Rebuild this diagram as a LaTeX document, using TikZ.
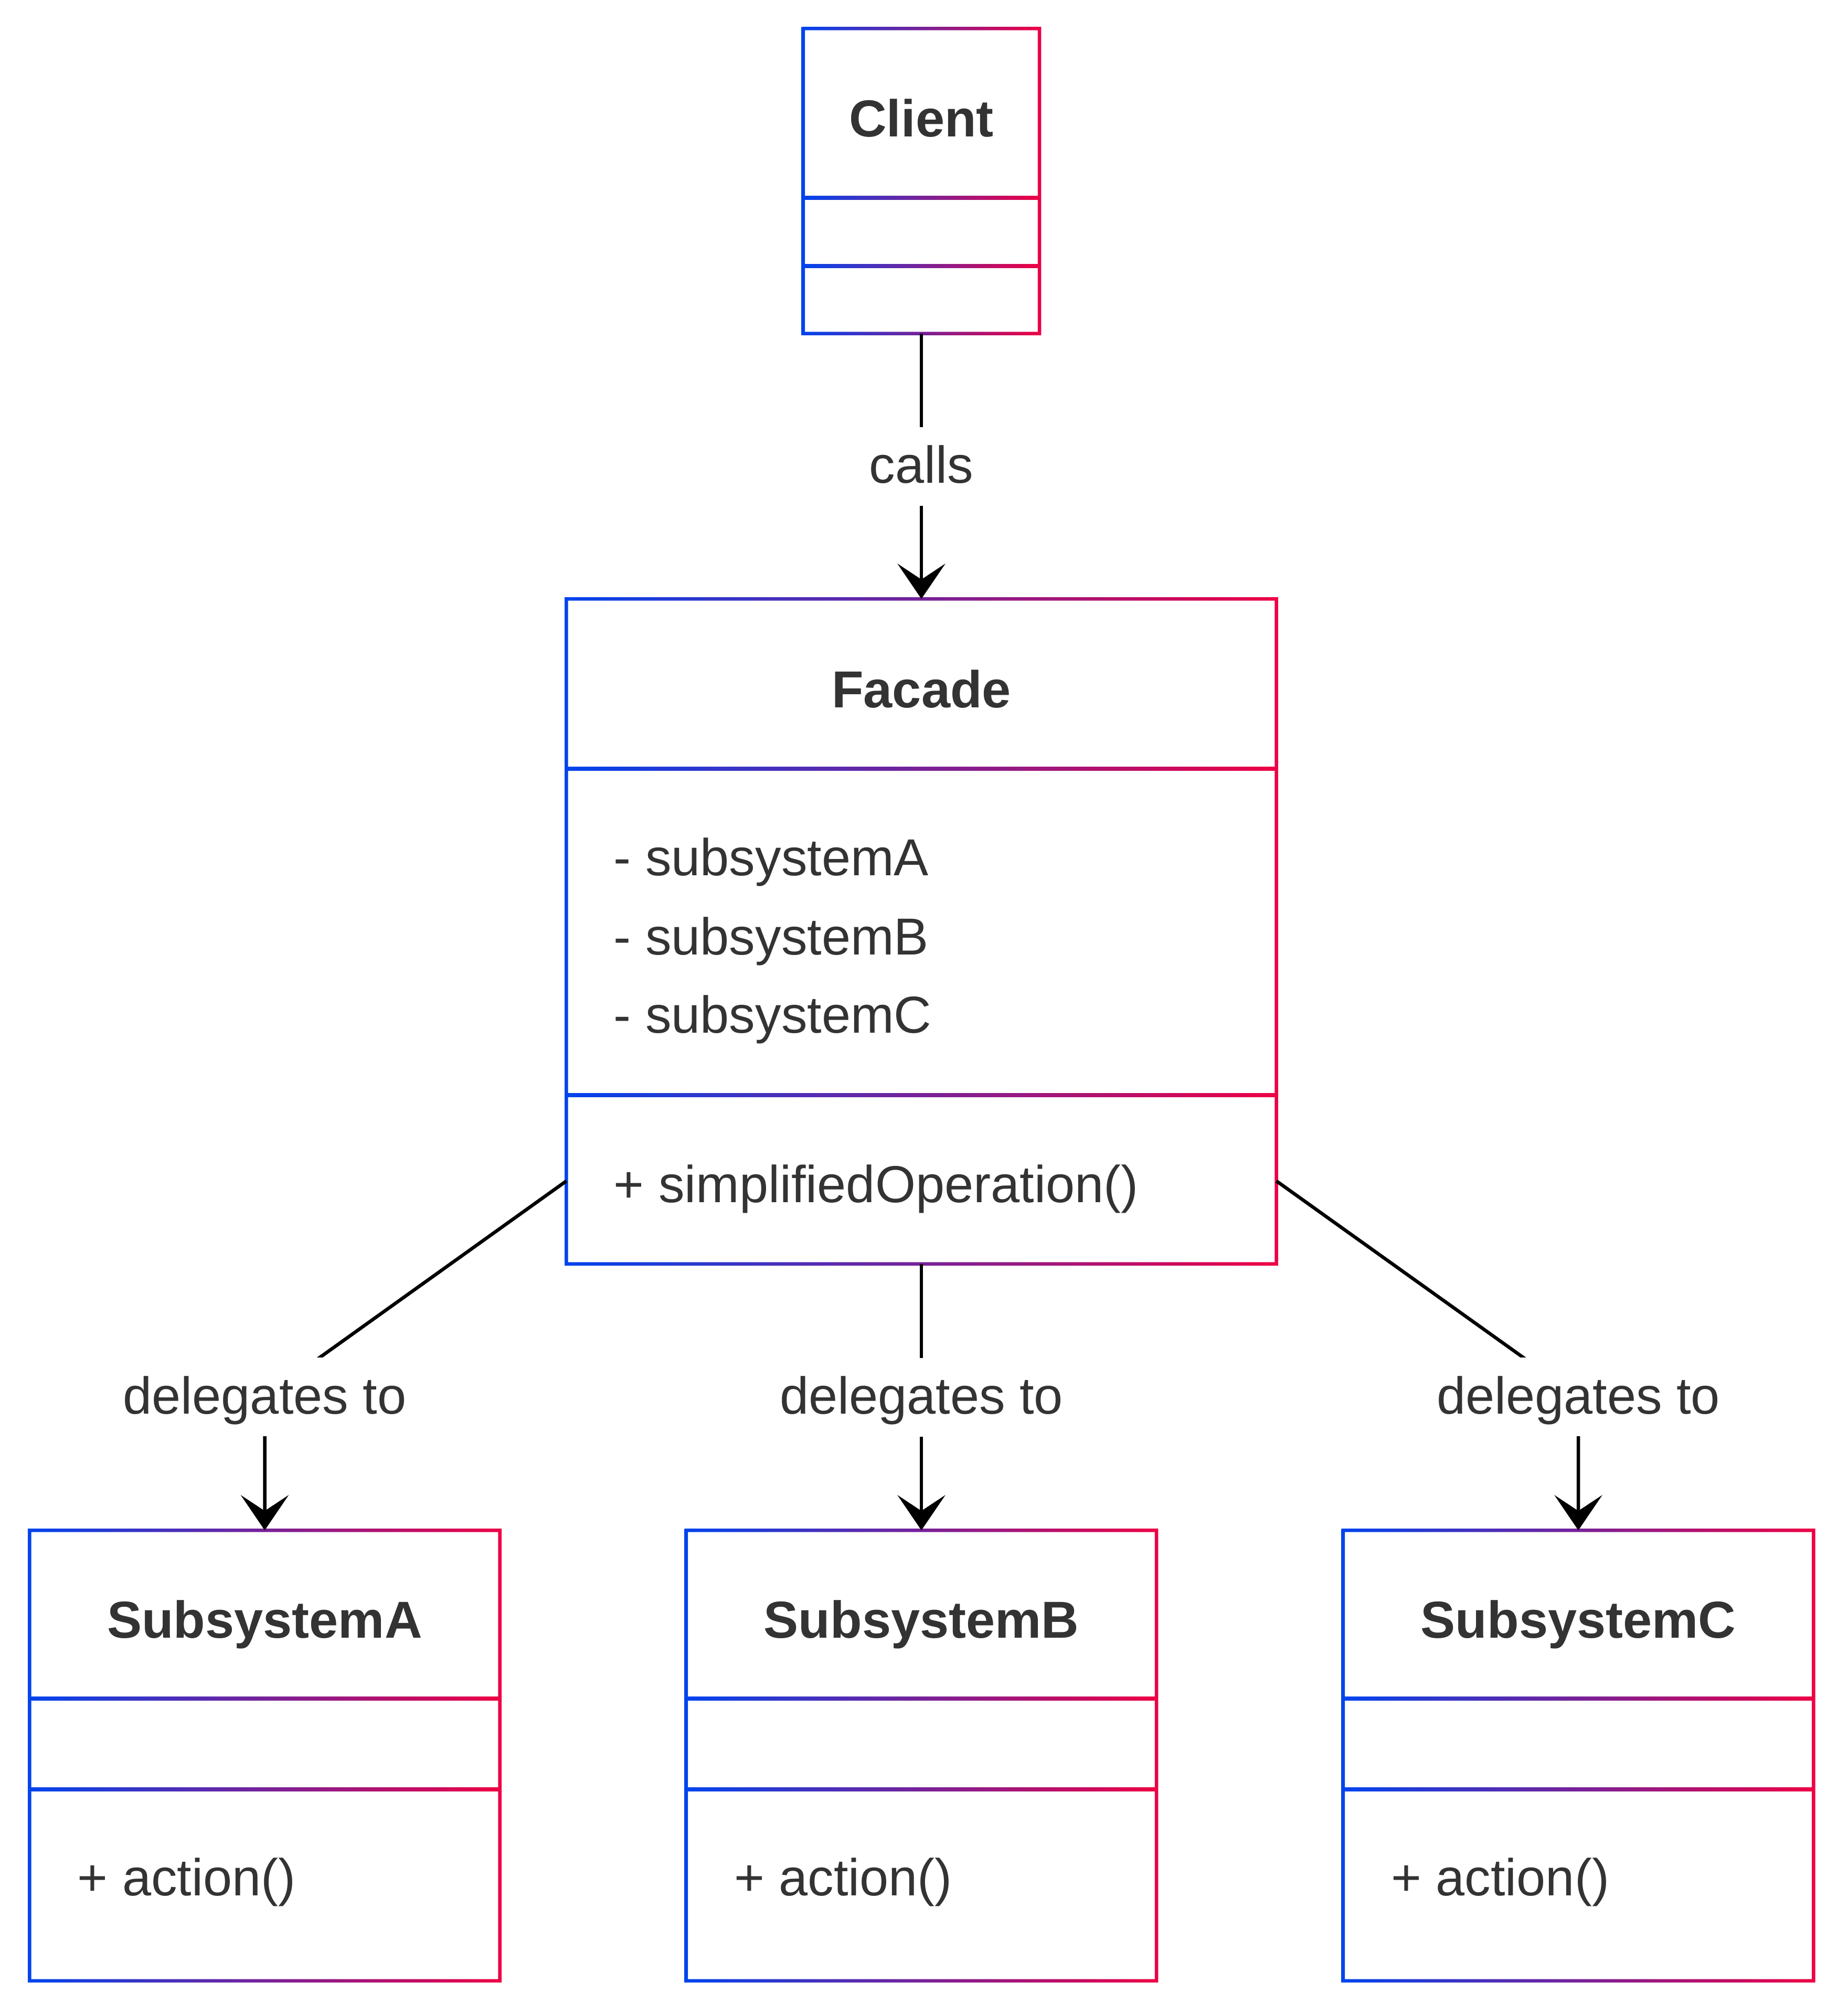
\documentclass[tikz,border=0pt]{standalone}
\usepackage{fontspec}
\setmainfont{Liberation Sans}[Ligatures=NoCommon]
\usepackage{xcolor}
\usepackage{tikz}
\usetikzlibrary{arrows.meta,calc}
\definecolor{gblue}{HTML}{0044EE}
\definecolor{gred}{HTML}{EE0044}
\definecolor{txtgray}{HTML}{333333}

% marco con degradado alrededor de una clase
\newcommand{\gbox}[1]{%
  \shade[grad, even odd rule]
    ($(#1.north west)+(-0.0325,0.0325)$) rectangle ($(#1.south east)+(0.0325,-0.0325)$)
    ($(#1.north west)+(0.0325,-0.0325)$) rectangle ($(#1.south east)+(-0.0325,0.0325)$);}
% separador de compartimentos
\newcommand{\gline}[2]{%
  \shade[grad] ($(#1.west |- 0,#2)+(0,0.0325)$) rectangle ($(#1.east |- 0,#2)+(0,-0.0325)$);}

\begin{document}
\begin{tikzpicture}[
  >={Stealth[length=6.7mm, width=9.1mm, inset=3mm]},
  cls/.style={inner sep=0pt, minimum width=8.95cm, minimum height=8.57cm},
  ttl/.style={anchor=base, inner sep=0pt, text=txtgray,
              font=\fontsize{28.2}{34}\selectfont\bfseries},
  mem/.style={anchor=base west, inner sep=0pt, text=txtgray,
              font=\fontsize{28.2}{34}\selectfont},
  lbl/.style={fill=white, text=txtgray, font=\fontsize{28.2}{34}\selectfont,
              inner xsep=1mm, inner ysep=2.8mm, text height=7.9mm, text depth=1.5mm},
  rel/.style={->, line width=0.65mm, draw=black},
  grad/.style={left color=gblue, right color=gred}
]
  \useasboundingbox (0,0) rectangle (35.21,-38.40);
  % clases
  \node[cls, minimum width=4.49cm, minimum height=5.80cm] (cl) at (17.56,-3.45) {};
  \node[cls, minimum width=13.52cm, minimum height=12.66cm] (fa) at (17.56,-17.75) {};
  \node[cls] (sa) at (5.045,-33.455) {};
  \node[cls] (sb) at (17.56,-33.455) {};
  \node[cls] (sc) at (30.08,-33.455) {};
  \foreach \n in {cl,fa,sa,sb,sc} {\gbox{\n}}
  % compartimentos
  \gline{cl}{-3.77}
  \gline{cl}{-5.07}
  \gline{fa}{-14.65}
  \gline{fa}{-20.87}
  \foreach \n in {sa,sb,sc} {\gline{\n}{-32.37} \gline{\n}{-34.10}}
  % nombres
  \node[ttl] (clT) at (17.56,-2.61)   {Client};
  \node[ttl] (faT) at (17.56,-13.485) {Facade};
  \node[ttl] (saT) at (5.045,-31.21)  {SubsystemA};
  \node[ttl] (sbT) at (17.56,-31.21)  {SubsystemB};
  \node[ttl] (scT) at (30.08,-31.21)  {SubsystemC};
  % atributos y metodos
  \node[mem] (fa1) at (11.69,-16.68) {- subsystemA};
  \node[mem] (fa2) at (11.69,-18.19) {- subsystemB};
  \node[mem] (fa3) at (11.69,-19.68) {- subsystemC};
  \node[mem] (faM) at (11.69,-22.91) {+ simplifiedOperation()};
  \node[mem] (saM) at (1.47,-36.12)   {+ action()};
  \node[mem] (sbM) at (13.985,-36.12) {+ action()};
  \node[mem] (scM) at (26.505,-36.12) {+ action()};
  % relaciones
  \draw[rel] (cl) -- node[lbl] (calls) {calls} (fa);
  \draw[rel] ([yshift=15.8mm]fa.south west) -- (sa |- 0,-26.62) node[lbl] (dA) {delegates to} -- (sa);
  \draw[rel] (fa) -- node[lbl] (dB) {delegates to} (sb);
  \draw[rel] ([yshift=15.8mm]fa.south east) -- (sc |- 0,-26.62) node[lbl] (dC) {delegates to} -- (sc);
\end{tikzpicture}
\end{document}
